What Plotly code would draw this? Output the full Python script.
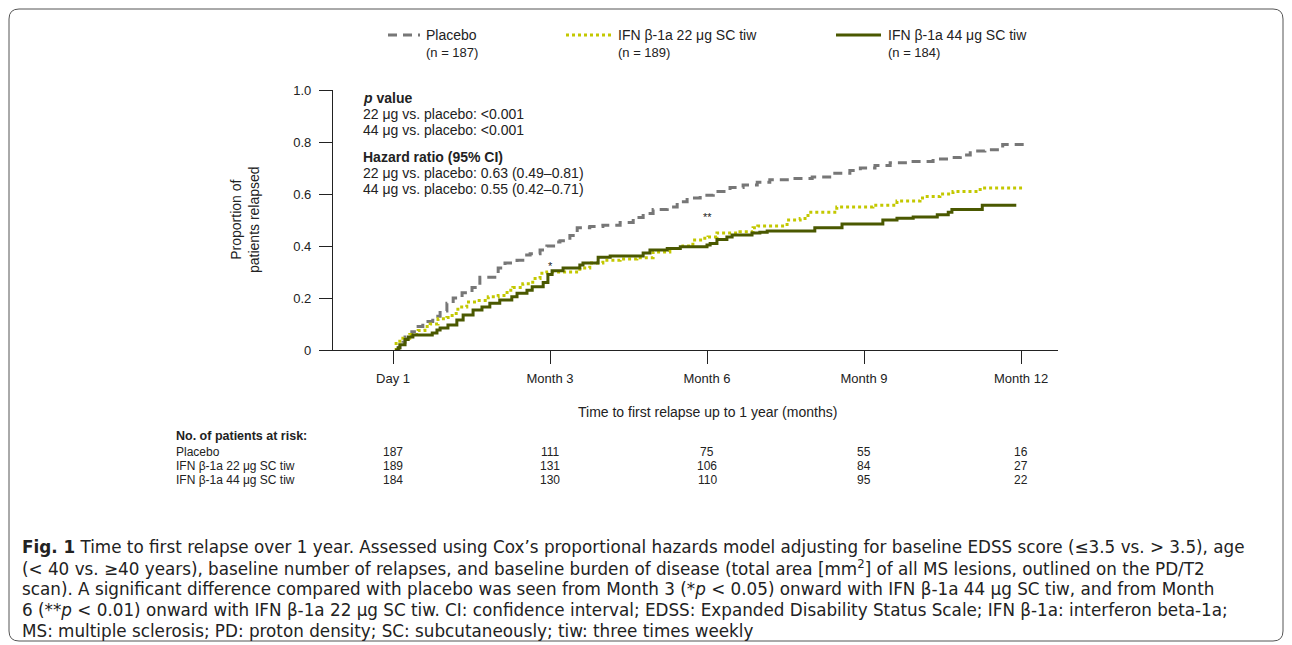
import plotly.graph_objects as go

# ---------------- data ----------------
tick_months = [0, 3, 6, 9, 12]
tick_labels = ["Day 1", "Month 3", "Month 6", "Month 9", "Month 12"]
y_ticks = [0, 0.2, 0.4, 0.6, 0.8, 1.0]
y_tick_labels = ["0", "0.2", "0.4", "0.6", "0.8", "1.0"]

placebo_t = [0.04, 0.10, 0.19, 0.23, 0.36, 0.48, 0.57, 0.76, 0.90, 1.03, 1.15, 1.32, 1.51, 1.66, 2.01,
             2.14, 2.37, 2.48, 2.62, 2.81, 2.94, 3.13, 3.19, 3.38, 3.52, 3.76, 4.01, 4.34, 4.59, 4.78,
             4.97, 5.24, 5.43, 5.62, 5.87, 6.12, 6.44, 6.69, 6.96, 7.20, 7.62, 8.01, 8.39, 8.73, 8.93,
             9.21, 9.50, 9.82, 10.32, 10.68, 10.84, 11.03, 11.31, 11.65, 12.06]
placebo_v = [0.00, 0.01, 0.03, 0.05, 0.07, 0.09, 0.11, 0.13, 0.15, 0.18, 0.20, 0.22, 0.24, 0.28, 0.315,
             0.335, 0.345, 0.365, 0.37, 0.385, 0.40, 0.415, 0.42, 0.44, 0.47, 0.475, 0.48, 0.49, 0.51, 0.525,
             0.54, 0.55, 0.57, 0.585, 0.595, 0.61, 0.625, 0.635, 0.645, 0.655, 0.66, 0.665, 0.68, 0.69, 0.70,
             0.71, 0.72, 0.725, 0.735, 0.74, 0.75, 0.765, 0.77, 0.79, 0.79]

ifn22_t = [0.04, 0.06, 0.13, 0.32, 0.48, 0.61, 0.71, 0.86, 1.03, 1.13, 1.24, 1.41, 1.61, 1.82, 2.01,
           2.18, 2.29, 2.48, 2.67, 2.81, 2.94, 3.57, 3.76, 4.01, 4.34, 4.66, 4.97, 5.29, 5.54, 5.73,
           5.92, 6.02, 6.19, 6.63, 6.88, 6.97, 7.53, 7.78, 7.93, 8.48, 9.17, 9.63, 10.07, 10.17, 10.45,
           10.70, 11.22, 12.02]
ifn22_v = [0.00, 0.025, 0.045, 0.06, 0.075, 0.09, 0.10, 0.12, 0.125, 0.14, 0.165, 0.185, 0.19, 0.205, 0.21,
           0.23, 0.24, 0.255, 0.275, 0.295, 0.30, 0.315, 0.335, 0.345, 0.35, 0.355, 0.377, 0.39, 0.40, 0.423,
           0.43, 0.435, 0.45, 0.455, 0.47, 0.477, 0.50, 0.506, 0.53, 0.55, 0.557, 0.573, 0.585, 0.59, 0.60,
           0.61, 0.623, 0.623]

ifn44_t = [0.04, 0.10, 0.13, 0.23, 0.29, 0.38, 0.75, 0.84, 0.90, 1.05, 1.22, 1.34, 1.53, 1.70, 1.85,
           2.04, 2.27, 2.37, 2.56, 2.66, 2.87, 2.96, 3.04, 3.25, 3.57, 3.63, 3.92, 4.15, 4.78, 4.91,
           5.24, 5.49, 6.00, 6.06, 6.19, 6.38, 6.48, 6.86, 7.01, 7.15, 8.06, 8.58, 9.36, 9.63, 9.94,
           10.40, 10.61, 10.68, 11.26, 11.91]
ifn44_v = [0.00, 0.008, 0.02, 0.04, 0.05, 0.058, 0.065, 0.077, 0.085, 0.096, 0.115, 0.135, 0.154, 0.165, 0.18,
           0.192, 0.205, 0.218, 0.23, 0.243, 0.26, 0.29, 0.305, 0.315, 0.327, 0.335, 0.357, 0.362, 0.373, 0.385,
           0.39, 0.397, 0.404, 0.41, 0.425, 0.435, 0.442, 0.45, 0.453, 0.458, 0.47, 0.485, 0.50, 0.507, 0.512,
           0.52, 0.53, 0.54, 0.557, 0.557]

group_names = ["Placebo", "IFN β-1a 22 μg SC tiw", "IFN β-1a 44 μg SC tiw"]
group_n = [187, 189, 184]
at_risk_placebo = [187, 111, 75, 55, 16]
at_risk_22 = [189, 131, 106, 84, 27]
at_risk_44 = [184, 130, 110, 95, 22]

# significance markers (month, proportion)
sig_marks = [("*", 3.0, 0.325), ("**", 6.0, 0.51)]

# ---------------- layout helpers ----------------
W, H = 1292, 645
L, R, T, B = 333, 1058, 90, 350   # plot area in pixels


def px(xp):
    return (xp - L) / (R - L)


def py(yp):
    return (B - yp) / (B - T)


GRAY = "#777777"
YEL = "#c3c800"
OLIVE = "#4a5800"
SANS = "Liberation Sans, Arial, Helvetica"
TXT = "#222222"


def note(x, y, text, size=13, xanchor="left", family=SANS, **kw):
    d = dict(x=x, y=y, xref="paper", yref="paper", text=text, showarrow=False,
             xanchor=xanchor, yanchor="middle", font=dict(family=family, size=size, color=TXT))
    d.update(kw)
    return d


fig = go.Figure()
fig.add_trace(go.Scatter(x=placebo_t, y=placebo_v, mode="lines", line_shape="hv",
                         line=dict(color=GRAY, width=3, dash="9px,6px"), showlegend=False))
fig.add_trace(go.Scatter(x=ifn22_t, y=ifn22_v, mode="lines", line_shape="hv",
                         line=dict(color=YEL, width=3, dash="3px,3px"), showlegend=False))
fig.add_trace(go.Scatter(x=ifn44_t, y=ifn44_v, mode="lines", line_shape="hv",
                         line=dict(color=OLIVE, width=3), showlegend=False))

annotations = []
shapes = []

# significance asterisks
for txt, xm, yv in sig_marks:
    annotations.append(dict(x=xm, y=yv, xref="x", yref="y", text=txt, showarrow=False,
                            xanchor="center", yanchor="middle",
                            font=dict(family=SANS, size=11, color="#222")))

# stats text block
stat_lines = [
    ("<b><i>p</i> value</b>", 98),
    ("22 μg vs. placebo: <0.001", 114),
    ("44 μg vs. placebo: <0.001", 130),
    ("<b>Hazard ratio (95% CI)</b>", 157),
    ("22 μg vs. placebo: 0.63 (0.49–0.81)", 173),
    ("44 μg vs. placebo: 0.55 (0.42–0.71)", 189),
]
for txt, yp in stat_lines:
    annotations.append(note(px(361), py(yp), txt, size=14))

# y-axis title
annotations.append(note(px(245), py(220), "Proportion of<br>patients relapsed", size=14,
                        xanchor="center", textangle=-90))
# x-axis title
annotations.append(note(px(707), py(412), "Time to first relapse up to 1 year (months)", size=14,
                        xanchor="center"))

# legend
legend_specs = [
    (388, 420, 424, dict(color=GRAY, width=3, dash="9px,6px")),
    (566, 612, 616, dict(color=YEL, width=3, dash="3px,3px")),
    (836, 881, 886, dict(color=OLIVE, width=3)),
]
for (x0, x1, xt, ln), name, n in zip(legend_specs, group_names, group_n):
    shapes.append(dict(type="line", xref="paper", yref="paper", x0=px(x0), x1=px(x1),
                       y0=py(35), y1=py(35), line=ln))
    annotations.append(note(px(xt), py(35), name, size=14))
    annotations.append(note(px(xt), py(52), f"(n = {n})", size=13))

# at-risk table
annotations.append(note(px(174), py(436), "<b>No. of patients at risk:</b>", size=12.5))
for name, row, yp in zip(group_names, [at_risk_placebo, at_risk_22, at_risk_44], [452, 466, 480]):
    annotations.append(note(px(174), py(yp), name, size=12))
    for xm, val in zip(tick_months, row):
        annotations.append(dict(x=xm, y=py(yp), xref="x", yref="paper", text=str(val),
                                showarrow=False, xanchor="center", yanchor="middle",
                                font=dict(family=SANS, size=12, color=TXT)))

# caption
caption = [
    "<b>Fig. 1</b> Time to first relapse over 1 year. Assessed using Cox’s proportional hazards model adjusting for baseline EDSS score (≤3.5 vs. > 3.5), age",
    "(< 40 vs. ≥40 years), baseline number of relapses, and baseline burden of disease (total area [mm<sup>2</sup>] of all MS lesions, outlined on the PD/T2",
    "scan). A significant difference compared with placebo was seen from Month 3 (*<i>p</i> < 0.05) onward with IFN β-1a 44 μg SC tiw, and from Month",
    "6 (**<i>p</i> < 0.01) onward with IFN β-1a 22 μg SC tiw. CI: confidence interval; EDSS: Expanded Disability Status Scale; IFN β-1a: interferon beta-1a;",
    "MS: multiple sclerosis; PD: proton density; SC: subcutaneously; tiw: three times weekly",
]
for i, line in enumerate(caption):
    annotations.append(note(px(20), py(547 + 21 * i), line, size=16.8, family="DejaVu Sans"))

# rounded border
bx0, bx1, by0, by1, rr = 9, 1283, 9, 641, 10
path = (f"M {px(bx0 + rr)},{py(by0)} L {px(bx1 - rr)},{py(by0)} "
        f"Q {px(bx1)},{py(by0)} {px(bx1)},{py(by0 + rr)} "
        f"L {px(bx1)},{py(by1 - rr)} Q {px(bx1)},{py(by1)} {px(bx1 - rr)},{py(by1)} "
        f"L {px(bx0 + rr)},{py(by1)} Q {px(bx0)},{py(by1)} {px(bx0)},{py(by1 - rr)} "
        f"L {px(bx0)},{py(by0 + rr)} Q {px(bx0)},{py(by0)} {px(bx0 + rr)},{py(by0)} Z")
shapes.append(dict(type="path", xref="paper", yref="paper", path=path,
                   line=dict(color="#555555", width=1)))

x_per_px = 3.0 / 157.0
fig.update_layout(
    width=W, height=H, autosize=False,
    margin=dict(l=L, r=W - R, t=T, b=H - B, pad=0),
    paper_bgcolor="white", plot_bgcolor="white",
    xaxis=dict(range=[(L - 393) * x_per_px, (R - 393) * x_per_px], tickvals=tick_months,
               ticktext=tick_labels, ticks="outside", ticklen=13, tickwidth=1.3, tickcolor="#222",
               showline=True, linecolor="#222", linewidth=1.3, showgrid=False, zeroline=False,
               ticklabelstandoff=3,
               tickfont=dict(family=SANS, size=13, color=TXT)),
    yaxis=dict(range=[0, 1], tickvals=y_ticks, ticktext=y_tick_labels, ticks="outside",
               ticklen=13, tickwidth=1.3, tickcolor="#222", showline=True, linecolor="#222",
               linewidth=1.3, showgrid=False, zeroline=False, ticklabelstandoff=5,
               tickfont=dict(family=SANS, size=13, color=TXT)),
    annotations=annotations, shapes=shapes, showlegend=False,
)

fig.write_html("out.html", config={"displayModeBar": False},
               post_script="document.body.style.margin='0';document.body.style.overflow='hidden';")
